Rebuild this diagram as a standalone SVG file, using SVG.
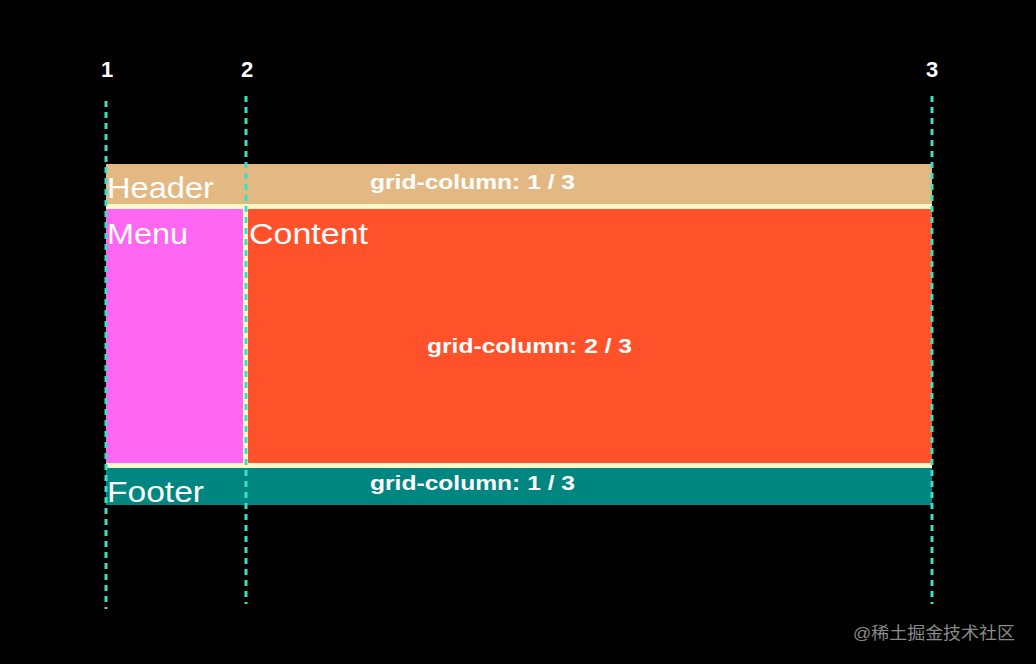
<svg xmlns="http://www.w3.org/2000/svg" width="1036" height="664" viewBox="0 0 1036 664">
<style>
.area{font-family:"Liberation Sans",Arial,sans-serif;font-size:29px;fill:#fff}
.lbl{font-family:"Liberation Sans",Arial,sans-serif;font-size:20px;font-weight:bold;fill:#fff}
.num{font-family:"Liberation Sans",Arial,sans-serif;font-size:22px;font-weight:bold;fill:#fff;text-anchor:middle}
.guide{stroke:#38e0c8;stroke-width:3;stroke-dasharray:6 5;fill:none}
</style>
<rect width="1036" height="664" fill="#000"/>
<g id="gap"><rect x="106" y="204" width="826" height="264" fill="#fff8c8"/></g>
<g id="header">
<rect x="106" y="164" width="826" height="40" fill="#e3b983"/>
<text class="area" x="107" y="198" textLength="107" lengthAdjust="spacingAndGlyphs">Header</text>
<text class="lbl" x="370" y="189" textLength="205" lengthAdjust="spacingAndGlyphs">grid-column: 1 / 3</text>
</g>
<g id="menu">
<rect x="106" y="209" width="137" height="254" fill="#ff66f2"/>
<text class="area" x="107" y="244" textLength="81" lengthAdjust="spacingAndGlyphs">Menu</text>
</g>
<g id="content">
<rect x="248" y="209" width="684" height="254" fill="#ff522b"/>
<text class="area" x="249" y="244" textLength="119" lengthAdjust="spacingAndGlyphs">Content</text>
<text class="lbl" x="427" y="353" textLength="205" lengthAdjust="spacingAndGlyphs">grid-column: 2 / 3</text>
</g>
<g id="footer">
<rect x="106" y="468" width="826" height="37" fill="#008680"/>
<text class="area" x="107" y="502" textLength="97" lengthAdjust="spacingAndGlyphs">Footer</text>
<text class="lbl" x="370" y="490" textLength="205" lengthAdjust="spacingAndGlyphs">grid-column: 1 / 3</text>
</g>
<g id="connectors">
<line class="guide" x1="106" y1="101" x2="106" y2="609"/>
<line class="guide" x1="246" y1="96" x2="246" y2="604"/>
<line class="guide" x1="932" y1="96" x2="932" y2="604"/>
</g>
<g id="numbers">
<text class="num" x="107" y="77">1</text>
<text class="num" x="247" y="77">2</text>
<text class="num" x="932" y="77">3</text>
</g>
<text x="853" y="639" font-family="'Liberation Sans','Noto Sans CJK SC',sans-serif" font-size="17" fill="#8a8a8a" textLength="162" lengthAdjust="spacingAndGlyphs">@稀土掘金技术社区</text>
</svg>
